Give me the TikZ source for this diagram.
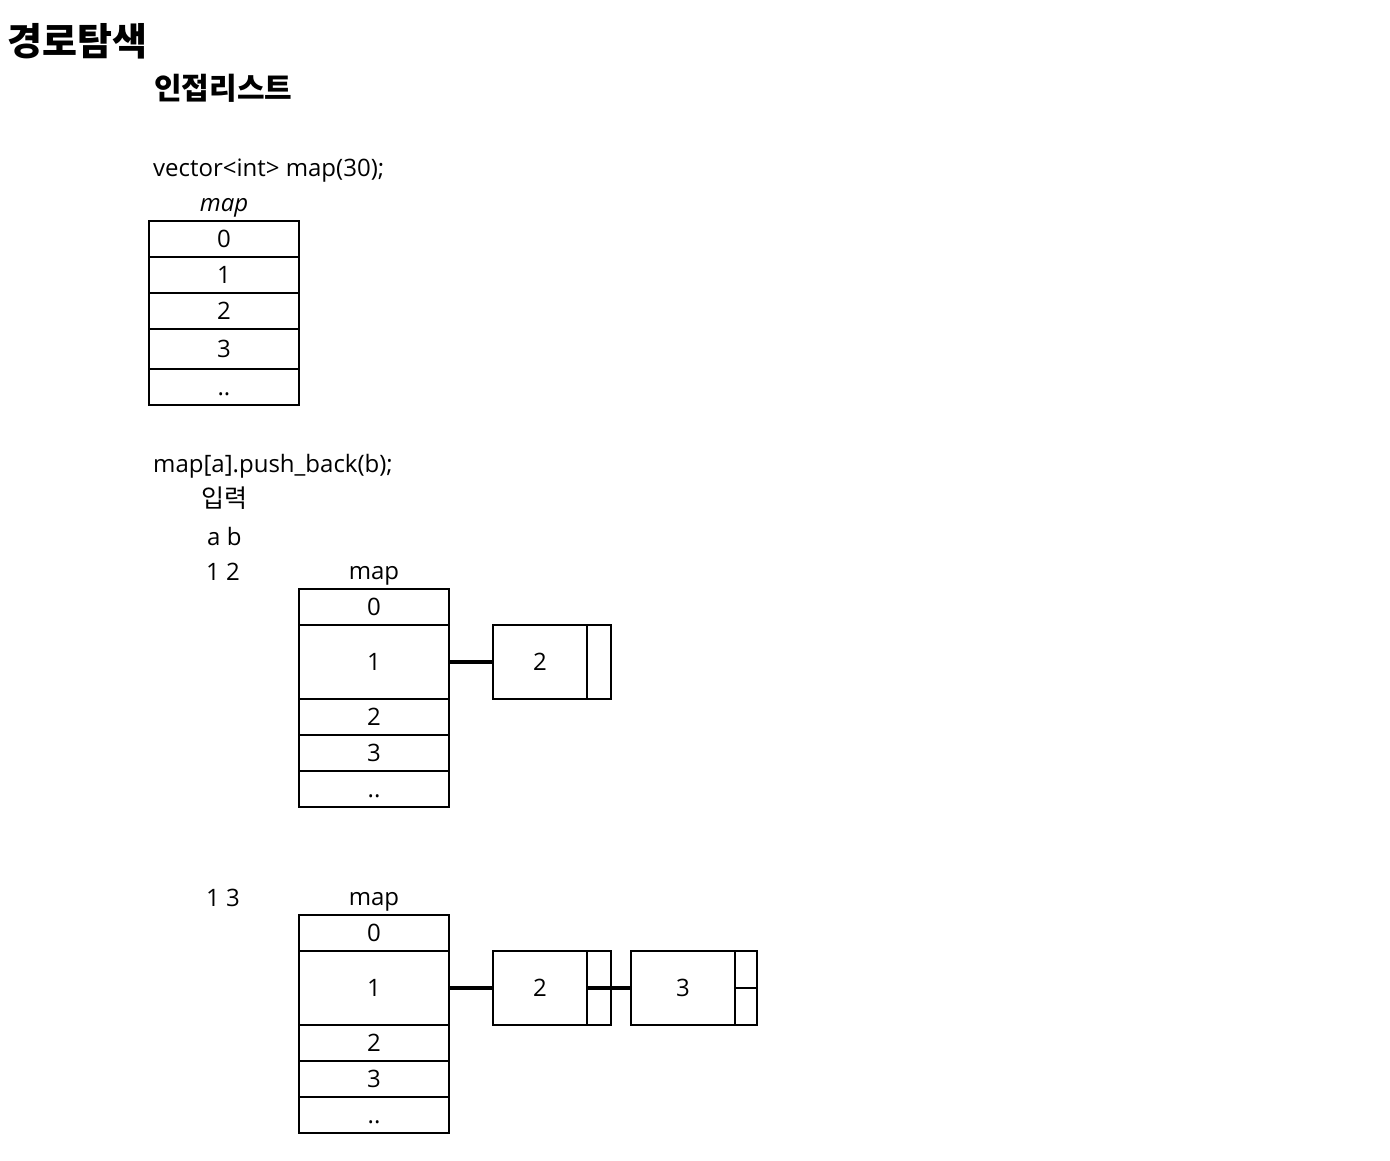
\documentclass[tikz,border=0pt]{standalone}
\usepackage{fontspec}
\setmainfont{Open Sans}
\newfontfamily\kr{Noto Sans CJK KR}
\begin{document}
\begin{tikzpicture}[x=1pt,y=-1pt,
  fs/.style={font=\fontsize{24}{28}\selectfont},
  txt/.style={inner sep=0pt,fs},
  cell/.style={draw,line width=1.6pt,inner sep=0pt,minimum width=150pt,minimum height=36pt,fs,text height=20pt,text depth=3pt},
  bigcell/.style={cell,minimum height=74pt},
  data/.style={draw,line width=1.6pt,inner sep=0pt,minimum height=74pt,fs},
  link/.style={line width=3.2pt}]
\useasboundingbox (0,0) rectangle (1390,1160);
% titles
\node[txt,anchor=west,font=\fontsize{38}{40}\kr\bfseries] (title) at (7,41) {경로탐색};
\node[txt,anchor=west,font=\fontsize{30}{32}\kr\bfseries] (sub) at (154,88) {인접리스트};
\node[txt,anchor=west] (decl) at (153,171) {vector<int> map(30);};
\node[txt,font=\fontsize{24}{28}\selectfont\itshape] (m1) at (224,208) {map};
% table 1
\node[cell] (a0) at (224,239) {0};
\node[cell] (a1) at (224,275) {1};
\node[cell] (a2) at (224,311) {2};
\node[cell,minimum height=40pt] (a3) at (224,349) {3};
\node[cell] (a4) at (224,387) {..};
% push back
\node[txt,anchor=west] (pb) at (153,466) {map[a].push\_back(b);};
\node[txt,anchor=west,font=\fontsize{25}{27}\kr] (in) at (201,498) {입력};
\node[txt,anchor=west] (ab) at (207,536) {a b};
\node[txt,anchor=west] (i12) at (206,572) {1 2};
\node[txt] (m2) at (374,576) {map};
% table 2
\node[cell] (b0) at (374,607) {0};
\node[bigcell] (b1) at (374,662) {1};
\node[cell] (b2) at (374,717) {2};
\node[cell] (b3) at (374,753) {3};
\node[cell] (b4) at (374,789) {..};
\node[data,minimum width=94pt] (n2d) at (540,662) {2};
\node[data,minimum width=24pt] (n2p) at (599,662) {};
\draw[link] (b1.east) -- (n2d.west);
% second input
\node[txt,anchor=west] (i13) at (206,898) {1 3};
\node[txt] (m3) at (374,902) {map};
\node[cell] (c0) at (374,933) {0};
\node[bigcell] (c1) at (374,988) {1};
\node[cell] (c2) at (374,1043) {2};
\node[cell] (c3) at (374,1079) {3};
\node[cell] (c4) at (374,1115) {..};
\node[data,minimum width=94pt] (p2d) at (540,988) {2};
\node[data,minimum width=24pt] (p2p) at (599,988) {};
\node[data,minimum width=104pt] (p3d) at (683,988) {3};
\node[data,minimum width=22pt,minimum height=37pt] (p3a) at (746,969.5) {};
\node[data,minimum width=22pt,minimum height=37pt] (p3b) at (746,1006.5) {};
\draw[link] (c1.east) -- (p2d.west);
\draw[link] (p2p.west) -- (p3d.west);
\end{tikzpicture}
\end{document}
